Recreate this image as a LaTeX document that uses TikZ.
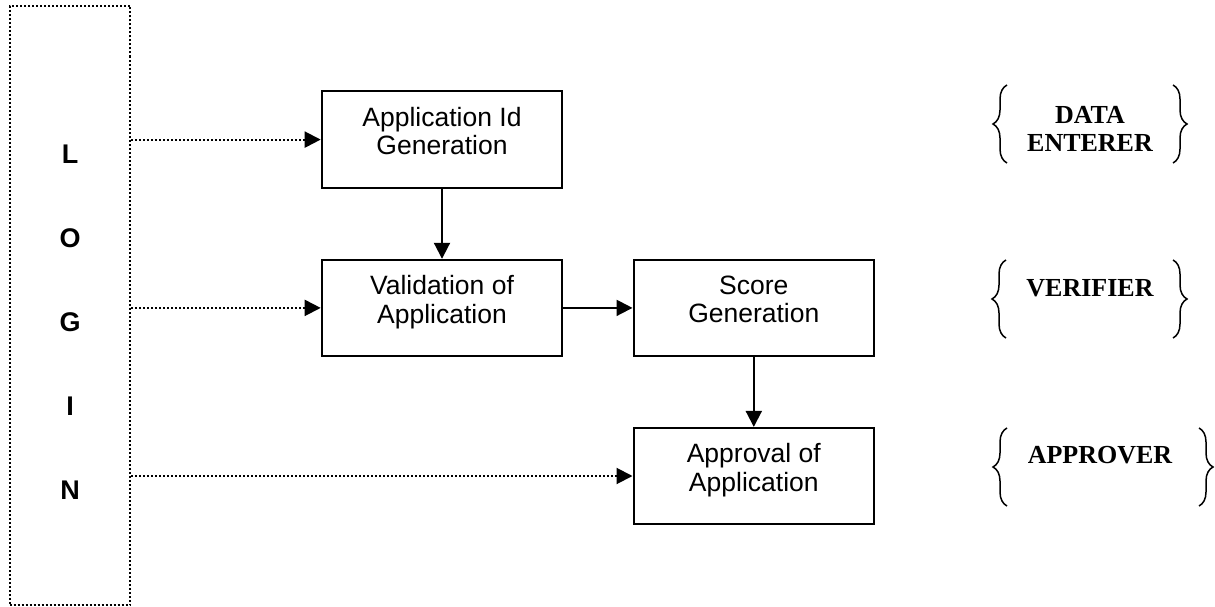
\documentclass[tikz,border=0pt]{standalone}
\usepackage{fontspec}
\setmainfont{Liberation Sans}
\newfontfamily\rolefont{Liberation Serif}
\usetikzlibrary{arrows.meta, decorations.pathreplacing, positioning}

\begin{document}
\begin{tikzpicture}[x=1pt, y=-1pt,
  stage/.style={draw, line width=2pt, minimum width=240.6pt, minimum height=96.2pt, inner sep=0pt},
  stagetext/.style={inner sep=0pt, align=center, font=\fontsize{26.5}{28.5}\selectfont},
  dotline/.style={line width=2pt, dash pattern=on 2pt off 2pt},
  flow/.style={line width=2pt, -{Triangle[length=16pt, width=16pt]}},
  loginflow/.style={flow, dotline},
  letter/.style={inner sep=0pt, font=\fontsize{27}{30}\selectfont\bfseries},
  role/.style={inner sep=0pt, align=center, font=\rolefont\bfseries\fontsize{26}{28.7}\selectfont},
  rolebrace/.style={line width=1.5pt, decorate, decoration={brace, amplitude=14pt}}
]
\useasboundingbox (0,0) rectangle (1215,607);

% login column
\node[draw, dotline, minimum width=120.5pt, minimum height=599pt, inner sep=0pt] (login) at (69.75,305.5) {};
\node[letter] (lL) at (70,154) {L};
\node[letter] (lO) at (70,238) {O};
\node[letter] (lG) at (70,322) {G};
\node[letter] (lI) at (70,406) {I};
\node[letter] (lN) at (70,490) {N};

% process stages
\node[stage] (appid) at (442,139.6) {};
\node[stagetext, below=16.5pt of appid.north] (appidtext) {Application Id\\Generation};

\node[stage] (valid) at (442,307.9) {};
\node[stagetext, below=16.5pt of valid.north] (validtext) {Validation of\\Application};

\node[stage] (score) at (753.8,307.9) {};
\node[stagetext, below=16.5pt of score.north] (scoretext) {Score\\Generation};

\node[stage] (approve) at (753.8,476) {};
\node[stagetext, below=16.5pt of approve.north] (approvetext) {Approval of\\Application};

% flow between stages
\draw[flow] (appid) -- (valid);
\draw[flow] (valid) -- (score);
\draw[flow] (score) -- (approve);

% login entry points
\draw[loginflow] (login.east |- appid.west) -- (appid.west);
\draw[loginflow] (login.east |- valid.west) -- (valid.west);
\draw[loginflow] (login.east |- approve.west) -- (approve.west);

% roles
\node[role] (enterer) at (1090,129) {DATA\\ENTERER};
\node[role] (verifier) at (1090,288) {VERIFIER};
\node[role] (approver) at (1100,455) {APPROVER};

\draw[rolebrace] (1007,163) -- (1007,85);
\draw[rolebrace] (1173,85) -- (1173,163);
\draw[rolebrace] (1006,338) -- (1006,260);
\draw[rolebrace] (1173,260) -- (1173,338);
\draw[rolebrace] (1007,506) -- (1007,428);
\draw[rolebrace] (1199,428) -- (1199,506);
\end{tikzpicture}
\end{document}
